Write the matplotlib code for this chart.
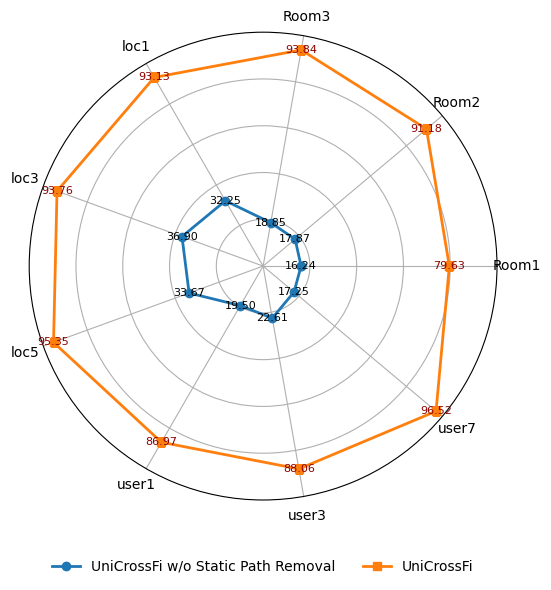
import numpy as np
import matplotlib
matplotlib.use('Agg')
from matplotlib import pyplot as plt

categories = ['Room1', 'Room2', 'Room3', 'loc1', 'loc3', 'loc5', 'user1', 'user3', 'user7']
no_removal = [16.24, 17.87, 18.85, 32.25, 36.90, 33.67, 19.50, 22.61, 17.25]
unicrossfi = [79.63, 91.18, 93.84, 93.13, 93.76, 95.35, 86.97, 88.06, 96.52]

angles = np.linspace(0, 2 * np.pi, len(categories), endpoint=False)
a_closed = np.append(angles, angles[0])

fig = plt.figure(figsize=(5.51, 5.90), dpi=100)
ax = fig.add_axes([0.053, 0.1525, 0.849, 0.793], polar=True)

ax.plot(a_closed, no_removal + no_removal[:1], 'o-', color='#1f77b4', lw=2, ms=6,
        label='UniCrossFi w/o Static Path Removal')
ax.plot(a_closed, unicrossfi + unicrossfi[:1], 's-', color='#ff7f0e', lw=2, ms=6,
        label='UniCrossFi')

for a, v in zip(angles, no_removal):
    ax.text(a, v, '%.2f' % v, fontsize=8, color='black', ha='center', va='center')
for a, v in zip(angles, unicrossfi):
    ax.text(a, v, '%.2f' % v, fontsize=8, color='darkred', ha='center', va='center')

ax.set_xticks(angles)
ax.set_xticklabels(categories, fontsize=10)
ax.set_ylim(0, 100)
ax.set_yticks([20, 40, 60, 80])
ax.set_yticklabels([])
ax.grid(True, color='#b0b0b0', lw=0.8)

fig.legend(loc='center', ncol=2, frameon=False, fontsize=10,
           bbox_to_anchor=(0.477, 0.039))

fig.savefig('out.png', dpi=100)
